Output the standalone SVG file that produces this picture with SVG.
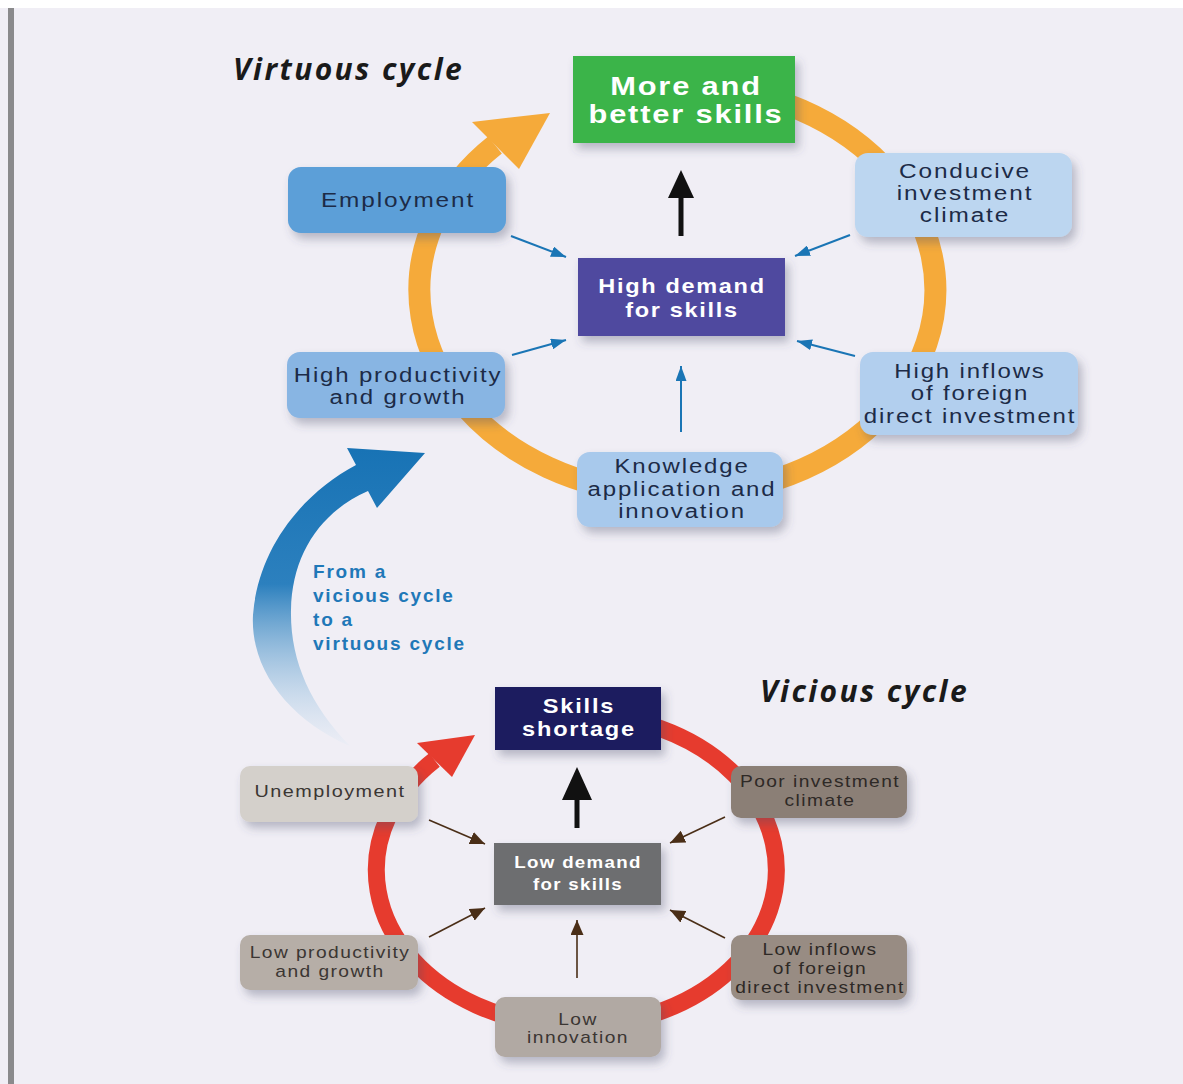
<svg xmlns="http://www.w3.org/2000/svg" width="1183" height="1084" viewBox="0 0 1183 1084">
<defs>
<style>
.txt{font-family:"Liberation Sans",Arial,sans-serif;text-anchor:middle}
.vt{font-size:19.5px;letter-spacing:1.5px;fill:#1c2b47}
.vl{font-size:16px;letter-spacing:1.2px;fill:#3b3633}
.dk{fill:#2e2926}
.wb{font-weight:700;fill:#ffffff}
.title{font-family:"Open Sans","Liberation Sans",sans-serif;font-weight:700;font-style:italic;font-size:30px;letter-spacing:2.4px;fill:#1a1a1a}
.blue{font-family:"Liberation Sans",Arial,sans-serif;font-weight:700;font-size:19px;letter-spacing:1.8px;fill:#1f78b8}
.thinb{stroke:#1a75b5;stroke-width:2;fill:none;marker-end:url(#hb)}
.thinr{stroke:#4a2e17;stroke-width:1.6;fill:none;marker-end:url(#hr)}
.box{filter:url(#sh)}
</style>
<filter id="sh" x="-20%" y="-20%" width="150%" height="160%">
<feDropShadow dx="4" dy="6" stdDeviation="5" flood-color="#4a4f6a" flood-opacity="0.35"/>
</filter>
<marker id="hb" markerUnits="userSpaceOnUse" markerWidth="15" markerHeight="11" refX="15" refY="5.5" orient="auto">
<path d="M0,0 L15,5.5 L0,11 z" fill="#1a75b5"/>
</marker>
<marker id="hr" markerUnits="userSpaceOnUse" markerWidth="15" markerHeight="13" refX="15" refY="6.5" orient="auto">
<path d="M0,0 L15,6.5 L0,13 z" fill="#4a2e17"/>
</marker>
<linearGradient id="bg1" gradientUnits="userSpaceOnUse" x1="0" y1="450" x2="0" y2="748">
<stop offset="0" stop-color="#1873b5"/>
<stop offset="0.45" stop-color="#2c80be"/>
<stop offset="1" stop-color="#e4ecf6" stop-opacity="0.3"/>
</linearGradient>
</defs>

<rect x="0" y="0" width="1183" height="1084" fill="#ffffff"/>
<rect x="0" y="8" width="1183" height="1076" fill="#f0eef5"/>
<rect x="8" y="8" width="6" height="1076" fill="#8a8a8c"/>

<g id="connectors">
<path d="M 678 85 A 258 205 0 1 1 495 145" fill="none" stroke="#f5aa3a" stroke-width="22"/>
<polygon points="472,122 550,113 519,169" fill="#f5aa3a"/>
<path d="M 576.5 714 A 200 156 0 1 1 434.5 760" fill="none" stroke="#e63b2e" stroke-width="17"/>
<polygon points="417,743 475,735 452,777" fill="#e63b2e"/>
<path d="M 356 465 C 300 495 258 550 253 615 C 250 670 290 720 350 746 C 310 705 290 660 291 610 C 292 555 320 512 368 491 L 377 508 L 425 453 L 347 448 Z" fill="url(#bg1)"/>
<line x1="681" y1="236" x2="681" y2="195" stroke="#111" stroke-width="5"/>
<polygon points="668,198 681,170 694,198" fill="#111"/>
<line x1="577" y1="828" x2="577" y2="797" stroke="#111" stroke-width="5"/>
<polygon points="562,800 577,767 592,800" fill="#111"/>
<line class="thinb" x1="511" y1="236" x2="566" y2="257"/>
<line class="thinb" x1="850" y1="235" x2="795" y2="256"/>
<line class="thinb" x1="512" y1="355" x2="566" y2="340"/>
<line class="thinb" x1="855" y1="356" x2="797" y2="341"/>
<line class="thinb" x1="681" y1="432" x2="681" y2="366"/>
<line class="thinr" x1="429" y1="820" x2="485" y2="844"/>
<line class="thinr" x1="725" y1="817" x2="670" y2="843"/>
<line class="thinr" x1="429" y1="937" x2="485" y2="908"/>
<line class="thinr" x1="725" y1="938" x2="670" y2="910"/>
<line class="thinr" x1="577" y1="978" x2="577" y2="920"/>
</g>

<text class="title" x="233" y="80">Virtuous cycle</text>
<text class="title" x="760" y="702">Vicious cycle</text>
<g id="transition-label">
<text class="blue" x="313" y="578"><tspan x="313">From a</tspan><tspan x="313" dy="23.5">vicious cycle</tspan><tspan x="313" dy="24.5">to a</tspan><tspan x="313" dy="24">virtuous cycle</tspan></text>
</g>

<g id="more-better-skills">
<rect class="box" x="573" y="56" width="222" height="87" fill="#3bb44a"/>
<text class="txt wb" transform="matrix(1.21 0 0 1 686 0)" x="0" y="95" style="font-size:25.5px;letter-spacing:1.5px"><tspan x="0">More and</tspan><tspan x="0" dy="28.5">better skills</tspan></text>
</g>
<g id="employment">
<rect class="box" x="288" y="167" width="218" height="66" rx="13" fill="#5b9fd8"/>
<text class="txt vt" transform="matrix(1.25 0 0 1 398 0)" x="0" y="207">Employment</text>
</g>
<g id="conducive">
<rect class="box" x="855" y="153" width="217" height="84" rx="13" fill="#bcd6f0"/>
<text class="txt vt" transform="matrix(1.25 0 0 1 965 0)" x="0" y="178"><tspan x="0">Conducive</tspan><tspan x="0" dy="22">investment</tspan><tspan x="0" dy="22">climate</tspan></text>
</g>
<g id="high-demand">
<rect class="box" x="578" y="258" width="207" height="78" fill="#4f4a9f"/>
<text class="txt wb" transform="matrix(1.12 0 0 1 682 0)" x="0" y="293" style="font-size:21px;letter-spacing:1.5px"><tspan x="0">High demand</tspan><tspan x="0" dy="24">for skills</tspan></text>
</g>
<g id="high-productivity">
<rect class="box" x="287" y="352" width="218" height="66" rx="13" fill="#88b5e3"/>
<text class="txt vt" transform="matrix(1.23 0 0 1 398 0)" x="0" y="382"><tspan x="0">High productivity</tspan><tspan x="0" dy="22">and growth</tspan></text>
</g>
<g id="high-inflows">
<rect class="box" x="860" y="352" width="218" height="83" rx="13" fill="#b2cfee"/>
<text class="txt vt" transform="matrix(1.23 0 0 1 970 0)" x="0" y="378"><tspan x="0">High inflows</tspan><tspan x="0" dy="22.5">of foreign</tspan><tspan x="0" dy="22.5">direct investment</tspan></text>
</g>
<g id="knowledge">
<rect class="box" x="577" y="452" width="206" height="75" rx="13" fill="#a8c9ec"/>
<text class="txt vt" transform="matrix(1.23 0 0 1 682 0)" x="0" y="473"><tspan x="0">Knowledge</tspan><tspan x="0" dy="23">application and</tspan><tspan x="0" dy="22">innovation</tspan></text>
</g>

<g id="skills-shortage">
<rect class="box" x="495" y="687" width="166" height="63" fill="#1f1b5e"/>
<text class="txt wb" transform="matrix(1.18 0 0 1 579 0)" x="0" y="713" style="font-size:20px;letter-spacing:1.5px"><tspan x="0">Skills</tspan><tspan x="0" dy="23">shortage</tspan></text>
</g>
<g id="unemployment">
<rect class="box" x="240" y="766" width="178" height="56" rx="10" fill="#d4d0cb"/>
<text class="txt vl" transform="matrix(1.24 0 0 1 330 0)" x="0" y="797">Unemployment</text>
</g>
<g id="poor-investment">
<rect class="box" x="731" y="766" width="176" height="52" rx="10" fill="#8b7f76"/>
<text class="txt vl dk" transform="matrix(1.2 0 0 1 820 0)" x="0" y="787"><tspan x="0">Poor investment</tspan><tspan x="0" dy="19">climate</tspan></text>
</g>
<g id="low-demand">
<rect class="box" x="494" y="843" width="167" height="62" fill="#6d6e70"/>
<text class="txt wb" transform="matrix(1.1 0 0 1 578 0)" x="0" y="868" style="font-size:17px;letter-spacing:1.2px"><tspan x="0">Low demand</tspan><tspan x="0" dy="22">for skills</tspan></text>
</g>
<g id="low-productivity">
<rect class="box" x="240" y="935" width="178" height="55" rx="10" fill="#b6aea7"/>
<text class="txt vl" transform="matrix(1.2 0 0 1 330 0)" x="0" y="958"><tspan x="0">Low productivity</tspan><tspan x="0" dy="19">and growth</tspan></text>
</g>
<g id="low-inflows">
<rect class="box" x="731" y="935" width="176" height="65" rx="10" fill="#988c83"/>
<text class="txt vl dk" transform="matrix(1.2 0 0 1 820 0)" x="0" y="955"><tspan x="0">Low inflows</tspan><tspan x="0" dy="19">of foreign</tspan><tspan x="0" dy="19">direct investment</tspan></text>
</g>
<g id="low-innovation">
<rect class="box" x="495" y="997" width="166" height="60" rx="10" fill="#b1a9a3"/>
<text class="txt vl" transform="matrix(1.2 0 0 1 578 0)" x="0" y="1025"><tspan x="0">Low</tspan><tspan x="0" dy="18.5">innovation</tspan></text>
</g>
</svg>
